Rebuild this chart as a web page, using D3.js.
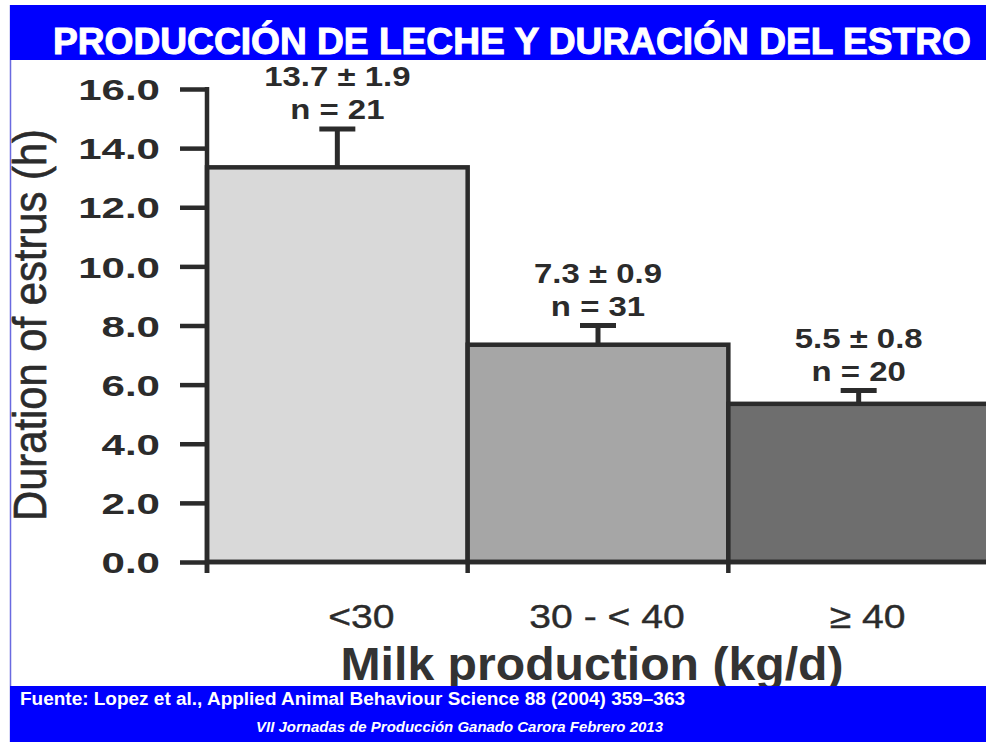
<!DOCTYPE html>
<html>
<head>
<meta charset="utf-8">
<script src="https://cdn.jsdelivr.net/npm/d3@7"></script>
<style>
  body { margin: 0; background: #fff; }
  svg { display: block; font-family: "Liberation Sans", Arial, sans-serif; }
</style>
</head>
<body>
<svg width="986" height="742"></svg>
<script>
// values (bar heights as drawn, labels as printed)
var categories = ["<30", "30 - < 40", "\u2265 40"];
var means = [13.35, 7.35, 5.35];
var errors = [1.3, 0.65, 0.45];
var meanLabels = ["13.7 \u00b1 1.9", "7.3 \u00b1 0.9", "5.5 \u00b1 0.8"];
var nLabels = ["n = 21", "n = 31", "n = 20"];
var yTicks = [0, 2, 4, 6, 8, 10, 12, 14, 16];

var svg = d3.select("svg"),
	width = +svg.attr("width"),
	height = +svg.attr("height");

var ink = "#2b2b2b";
var blue = "#0000fe";

var data = categories.map(function(c, i) {
	return { cat: c, mean: means[i], err: errors[i], ml: meanLabels[i], nl: nLabels[i] };
});

var x = d3.scaleBand().domain(categories).range([207, 989]).padding(0);
var y = d3.scaleLinear().domain([0, 16]).range([562, 89]);
var color = d3.scaleOrdinal().domain(categories).range(["#d9d9d9", "#a6a6a6", "#6e6e6e"]);

// thin frame line on the left
svg.append("line")
	.attr("x1", 10.5).attr("x2", 10.5).attr("y1", 5).attr("y2", height)
	.attr("stroke", "#6a6ae0").attr("stroke-width", 1.5);

var g = svg.append("g");

// bars
g.selectAll("rect.bar")
	.data(data)
	.enter().append("rect")
		.attr("class", "bar")
		.attr("x", function(d) { return x(d.cat); })
		.attr("y", function(d) { return y(d.mean); })
		.attr("width", x.bandwidth())
		.attr("height", function(d) { return y(0) - y(d.mean); })
		.attr("fill", function(d) { return color(d.cat); })
		.attr("stroke", ink)
		.attr("stroke-width", 4.5);

// error bars (upper only)
var eb = g.selectAll("g.err").data(data).enter().append("g").attr("class", "err");
eb.append("line")
	.attr("x1", function(d) { return x(d.cat) + x.bandwidth() / 2; })
	.attr("x2", function(d) { return x(d.cat) + x.bandwidth() / 2; })
	.attr("y1", function(d) { return y(d.mean); })
	.attr("y2", function(d) { return y(d.mean + d.err); })
	.attr("stroke", ink).attr("stroke-width", 5);
eb.append("line")
	.attr("x1", function(d) { return x(d.cat) + x.bandwidth() / 2 - 18; })
	.attr("x2", function(d) { return x(d.cat) + x.bandwidth() / 2 + 18; })
	.attr("y1", function(d) { return y(d.mean + d.err); })
	.attr("y2", function(d) { return y(d.mean + d.err); })
	.attr("stroke", ink).attr("stroke-width", 5);

// labels above error bars
function stretched(sel, sx) {
	return sel.attr("transform", function() {
		return d3.select(this).attr("transform") + " scale(" + sx + ",1)";
	});
}
var lab = g.selectAll("g.lab").data(data).enter().append("g").attr("class", "lab");
lab.append("text")
	.attr("transform", function(d) { return "translate(" + (x(d.cat) + x.bandwidth() / 2) + "," + (y(d.mean + d.err) - 43) + ")"; })
	.attr("text-anchor", "middle")
	.attr("font-size", 27).attr("font-weight", "bold").attr("fill", ink)
	.text(function(d) { return d.ml; })
	.call(stretched, 1.22);
lab.append("text")
	.attr("transform", function(d) { return "translate(" + (x(d.cat) + x.bandwidth() / 2) + "," + (y(d.mean + d.err) - 10) + ")"; })
	.attr("text-anchor", "middle")
	.attr("font-size", 27).attr("font-weight", "bold").attr("fill", ink)
	.text(function(d) { return d.nl; })
	.call(stretched, 1.22);

// y axis
var yAxis = g.append("g")
	.attr("transform", "translate(207,0)")
	.call(d3.axisLeft(y).tickValues(yTicks).tickSize(27).tickSizeOuter(0).tickFormat(d3.format(".1f")));
yAxis.select(".domain").remove();
yAxis.selectAll(".tick line").attr("stroke", ink).attr("stroke-width", 4.5);
yAxis.selectAll(".tick text")
	.attr("x", null).attr("dy", "0.37em")
	.attr("transform", "translate(-47,0) scale(1.45,1)")
	.attr("font-size", 29).attr("font-weight", "bold")
	.attr("font-family", "'Liberation Sans', Arial, sans-serif")
	.attr("fill", ink).attr("text-anchor", "end");
g.append("line")
	.attr("x1", 207).attr("x2", 207)
	.attr("y1", y(16) - 2).attr("y2", y(0) + 11)
	.attr("stroke", ink).attr("stroke-width", 4.5);

// x axis: baseline and boundary ticks
g.append("line")
	.attr("x1", 207).attr("x2", width)
	.attr("y1", y(0)).attr("y2", y(0))
	.attr("stroke", ink).attr("stroke-width", 4.5);
g.selectAll("line.xb")
	.data(categories)
	.enter().append("line")
		.attr("class", "xb")
		.attr("x1", function(d) { return x(d); })
		.attr("x2", function(d) { return x(d); })
		.attr("y1", y(0)).attr("y2", y(0) + 11)
		.attr("stroke", ink).attr("stroke-width", 4.5);

var xAxis = g.append("g")
	.attr("transform", "translate(0," + y(0) + ")")
	.call(d3.axisBottom(x).tickSize(0));
xAxis.select(".domain").remove();
xAxis.selectAll(".tick text")
	.attr("y", null).attr("dy", null)
	.attr("transform", function(d, i) { return "translate(" + (i === 0 ? 24 : 9) + ",66) scale(1.15,1)"; })
	.attr("font-size", 34)
	.attr("font-family", "'Liberation Sans', Arial, sans-serif")
	.attr("stroke", ink).attr("stroke-width", 0.4)
	.attr("fill", ink);

// axis titles
g.append("text")
	.attr("x", 592).attr("y", 680)
	.attr("text-anchor", "middle")
	.attr("font-size", 46).attr("font-weight", "bold").attr("fill", "#333")
	.attr("textLength", 503).attr("lengthAdjust", "spacingAndGlyphs")
	.text("Milk production (kg/d)");

g.append("text")
	.attr("transform", "translate(46,325) rotate(-90) scale(1,1.12)")
	.attr("text-anchor", "middle")
	.attr("font-size", 42).attr("fill", ink)
	.attr("stroke", ink).attr("stroke-width", 0.6)
	.attr("textLength", 392).attr("lengthAdjust", "spacingAndGlyphs")
	.text("Duration of estrus (h)");

// title bar
svg.append("rect")
	.attr("x", 10).attr("y", 5).attr("width", width - 10).attr("height", 55)
	.attr("fill", blue);
svg.append("text")
	.attr("x", 53).attr("y", 54)
	.attr("font-size", 37).attr("font-weight", "bold").attr("fill", "#fff")
	.attr("stroke", "#fff").attr("stroke-width", 1)
	.attr("textLength", 918).attr("lengthAdjust", "spacingAndGlyphs")
	.text("PRODUCCIÓN DE LECHE Y DURACIÓN DEL ESTRO");

// footer bar
svg.append("rect")
	.attr("x", 10).attr("y", 686).attr("width", width - 10).attr("height", height - 686)
	.attr("fill", blue);
svg.append("text")
	.attr("x", 20).attr("y", 705)
	.attr("font-size", 18).attr("font-weight", "bold").attr("fill", "#fff")
	.attr("textLength", 665).attr("lengthAdjust", "spacingAndGlyphs")
	.text("Fuente: Lopez et al., Applied Animal Behaviour Science 88 (2004) 359\u2013363");
svg.append("text")
	.attr("x", 256).attr("y", 732)
	.attr("font-size", 14).attr("font-weight", "bold").attr("font-style", "italic").attr("fill", "#fff")
	.attr("textLength", 407).attr("lengthAdjust", "spacingAndGlyphs")
	.text("VII Jornadas de Producción Ganado Carora Febrero 2013");
</script>
</body>
</html>
